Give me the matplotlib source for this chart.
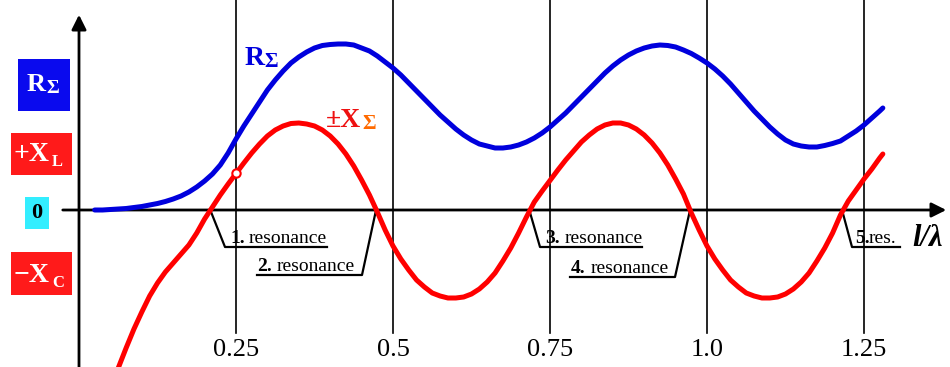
import matplotlib.pyplot as plt
from matplotlib.patches import Rectangle

plt.rcParams['font.family'] = ['Liberation Serif', 'DejaVu Serif']

# radiation resistance R_sigma versus l/lambda
r_len = [0.025, 0.0375, 0.05, 0.0625, 0.075, 0.0875, 0.1, 0.1125, 0.125, 0.1375,
         0.15, 0.1625, 0.175, 0.1875, 0.2, 0.2125, 0.225, 0.2375, 0.25, 0.2625,
         0.275, 0.2875, 0.3, 0.3125, 0.325, 0.3375, 0.35, 0.3625, 0.375, 0.3875,
         0.4, 0.4125, 0.425, 0.4375, 0.45, 0.4625, 0.475, 0.4875, 0.5, 0.5125,
         0.525, 0.5375, 0.55, 0.5625, 0.575, 0.5875, 0.6, 0.6125, 0.625, 0.6375,
         0.65, 0.6625, 0.675, 0.6875, 0.7, 0.7125, 0.725, 0.7375, 0.75, 0.7625,
         0.775, 0.7875, 0.8, 0.8125, 0.825, 0.8375, 0.85, 0.8625, 0.875, 0.8875,
         0.9, 0.9125, 0.925, 0.9375, 0.95, 0.9625, 0.975, 0.9875, 1.0, 1.0125,
         1.025, 1.0375, 1.05, 1.0625, 1.075, 1.0875, 1.1, 1.1125, 1.125, 1.1375,
         1.15, 1.1625, 1.175, 1.1875, 1.2, 1.2125, 1.225, 1.2375, 1.25, 1.2625,
         1.275, 1.28]
r_val = [0.00, 0.00, 0.005, 0.01, 0.015, 0.025, 0.035, 0.05, 0.065, 0.085,
         0.11, 0.14, 0.18, 0.23, 0.29, 0.36, 0.45, 0.57, 0.71, 0.84,
         0.96, 1.08, 1.20, 1.30, 1.39, 1.47, 1.53, 1.58, 1.62, 1.645,
         1.655, 1.66, 1.66, 1.65, 1.62, 1.59, 1.54, 1.48, 1.42, 1.35,
         1.27, 1.19, 1.11, 1.03, 0.95, 0.88, 0.81, 0.75, 0.70, 0.66,
         0.64, 0.62, 0.62, 0.63, 0.65, 0.68, 0.72, 0.77, 0.83, 0.90,
         0.97, 1.05, 1.13, 1.21, 1.29, 1.37, 1.44, 1.50, 1.55, 1.59,
         1.62, 1.64, 1.65, 1.645, 1.63, 1.60, 1.565, 1.52, 1.47, 1.41,
         1.34, 1.26, 1.17, 1.08, 0.99, 0.91, 0.83, 0.76, 0.70, 0.66,
         0.64, 0.63, 0.63, 0.645, 0.665, 0.69, 0.74, 0.79, 0.85, 0.92,
         0.99, 1.02]

# reactance X_sigma versus l/lambda
x_len = [0.0625, 0.075, 0.0875, 0.1, 0.1125, 0.125, 0.1375, 0.15, 0.1625, 0.175,
         0.1875, 0.2, 0.2125, 0.225, 0.2375, 0.25, 0.2625, 0.275, 0.2875, 0.3,
         0.3125, 0.325, 0.3375, 0.35, 0.3625, 0.375, 0.3875, 0.4, 0.4125, 0.425,
         0.4375, 0.45, 0.4625, 0.475, 0.4875, 0.5, 0.5125, 0.525, 0.5375, 0.55,
         0.5625, 0.575, 0.5875, 0.6, 0.6125, 0.625, 0.6375, 0.65, 0.6625, 0.675,
         0.6875, 0.7, 0.7125, 0.725, 0.7375, 0.75, 0.7625, 0.775, 0.7875, 0.8,
         0.8125, 0.825, 0.8375, 0.85, 0.8625, 0.875, 0.8875, 0.9, 0.9125, 0.925,
         0.9375, 0.95, 0.9625, 0.975, 0.9875, 1.0, 1.0125, 1.025, 1.0375, 1.05,
         1.0625, 1.075, 1.0875, 1.1, 1.1125, 1.125, 1.1375, 1.15, 1.1625, 1.175,
         1.1875, 1.2, 1.2125, 1.225, 1.2375, 1.25, 1.2625, 1.275, 1.28]
x_val = [-1.58, -1.38, -1.19, -1.02, -0.86, -0.73, -0.62, -0.53, -0.44, -0.35,
         -0.23, -0.09, 0.03, 0.15, 0.26, 0.365, 0.47, 0.57, 0.66, 0.74,
         0.80, 0.84, 0.865, 0.87, 0.86, 0.84, 0.80, 0.74, 0.66, 0.56,
         0.44, 0.30, 0.15, -0.02, -0.20, -0.36, -0.49, -0.60, -0.70, -0.77,
         -0.83, -0.86, -0.88, -0.88, -0.87, -0.84, -0.79, -0.72, -0.63, -0.51,
         -0.38, -0.23, -0.07, 0.08, 0.19, 0.295, 0.40, 0.50, 0.59, 0.68,
         0.75, 0.81, 0.85, 0.87, 0.87, 0.85, 0.81, 0.75, 0.67, 0.57,
         0.45, 0.31, 0.16, -0.03, -0.20, -0.36, -0.49, -0.60, -0.70, -0.77,
         -0.83, -0.86, -0.88, -0.88, -0.87, -0.84, -0.79, -0.72, -0.63, -0.51,
         -0.38, -0.23, -0.05, 0.09, 0.20, 0.31, 0.41, 0.52, 0.56]

ticks = [0.25, 0.5, 0.75, 1.0, 1.25]
tick_labels = ['0.25', '0.5', '0.75', '1.0', '1.25']

# zero crossings of X_sigma and their labels
res_len = [0.209, 0.473, 0.717, 0.973, 1.215]
res_num = ['1.', '2.', '3.', '4.', '5.']
res_word = ['resonance', 'resonance', 'resonance', 'resonance', 'res.']

W, H = 950, 367
X0, XS = 79, 628   # pixel of l/lambda = 0 and pixels per unit
Y0, YS = 210, 100


def px(x, y):
    # pixel position -> data coordinates
    return (x - X0) / XS, (Y0 - y) / YS


fig = plt.figure(figsize=(W / 100, H / 100), dpi=100)
ax = fig.add_axes([0, 0, 1, 1])
ax.set_xlim(-X0 / XS, (W - X0) / XS)
ax.set_ylim(-(H - Y0) / YS, Y0 / YS)
ax.axis('off')

# vertical grid lines and tick labels
for t, lab in zip(ticks, tick_labels):
    ax.plot([t, t], [px(0, 0)[1], px(0, 333)[1]], color='black', lw=1.2, zorder=1)
    ax.text(t, px(0, 350)[1], lab, ha='center', va='center', fontsize=19)

# axes with arrows
ax.annotate('', xy=px(79, 12), xytext=px(79, 370),
            arrowprops=dict(arrowstyle='-|>', lw=2, color='black', mutation_scale=22))
ax.annotate('', xy=px(949, 210), xytext=px(60, 210),
            arrowprops=dict(arrowstyle='-|>', lw=2, color='black', mutation_scale=22))
ax.text(*px(912, 246), 'l/λ', fontsize=22, style='italic', weight='bold',
        ha='left', va='baseline')

# curves
ax.plot(r_len, r_val, color='#0000dd', lw=3.6, solid_capstyle='round',
        solid_joinstyle='round', zorder=3)
ax.plot(x_len, x_val, color='#ff0000', lw=3.6, solid_capstyle='round',
        solid_joinstyle='round', zorder=3)
i25 = x_len.index(0.25)
ax.plot(x_len[i25], x_val[i25], 'o', ms=6, mfc='white', mec='#ff0000', mew=1.5, zorder=4)

# curve names
ax.text(*px(245, 65), 'R', color='#0000dd', fontsize=20, weight='bold', va='baseline')
ax.text(*px(264, 67), 'Σ', color='#0000dd', fontsize=15, weight='bold', va='baseline')
ax.text(*px(326, 127), '±X', color='#ee1111', fontsize=20, weight='bold', va='baseline')
ax.text(*px(362, 129), 'Σ', color='#ff6a00', fontsize=15, weight='bold', va='baseline')

# resonance leaders: (knee x, knee y, end x) in pixels
leaders = [(225, 247, 327), (362, 275, 257), (540, 247, 642),
           (675, 277, 570), (852, 247, 900)]
num_left = [230, 257, 545, 571, 855]
word_left = [249, 277, 565, 591, 869]
for i, (kx, ky, ex) in enumerate(leaders):
    xs = [res_len[i], (kx - X0) / XS, (ex - X0) / XS]
    ys = [0, (Y0 - ky) / YS, (Y0 - ky) / YS]
    ax.plot(xs, ys, color='black', lw=1.6, zorder=2)
    ax.text(*px(num_left[i], ky - 4), res_num[i], fontsize=14, weight='bold',
            ha='left', va='baseline')
    ax.text(*px(word_left[i], ky - 4), res_word[i], fontsize=14,
            ha='left', va='baseline')

# legend boxes on the left
boxes = [((18, 59, 70, 111), '#0a0aee'), ((11, 133, 72, 175), '#ff1a1a'),
         ((25, 197, 49, 229), '#33eeff'), ((11, 252, 72, 295), '#ff1a1a')]
for (l, t, r, b), c in boxes:
    x0, y0 = px(l, b)
    ax.add_patch(Rectangle((x0, y0), (r - l) / XS, (b - t) / YS,
                           facecolor=c, edgecolor='none', zorder=2))

ax.text(*px(27, 91), 'R', color='white', fontsize=19, weight='bold', va='baseline')
ax.text(*px(46, 93), 'Σ', color='white', fontsize=14, weight='bold', va='baseline')
ax.text(*px(14, 161), '+X', color='white', fontsize=20, weight='bold', va='baseline')
ax.text(*px(52, 166), 'L', color='white', fontsize=12, weight='bold', va='baseline')
ax.text(*px(37, 213), '0', color='black', fontsize=16, weight='bold',
        ha='center', va='center')
ax.text(*px(14, 282), '−X', color='white', fontsize=20, weight='bold', va='baseline')
ax.text(*px(52, 287), 'C', color='white', fontsize=12, weight='bold', va='baseline')

fig.savefig('out.png', dpi=100)
